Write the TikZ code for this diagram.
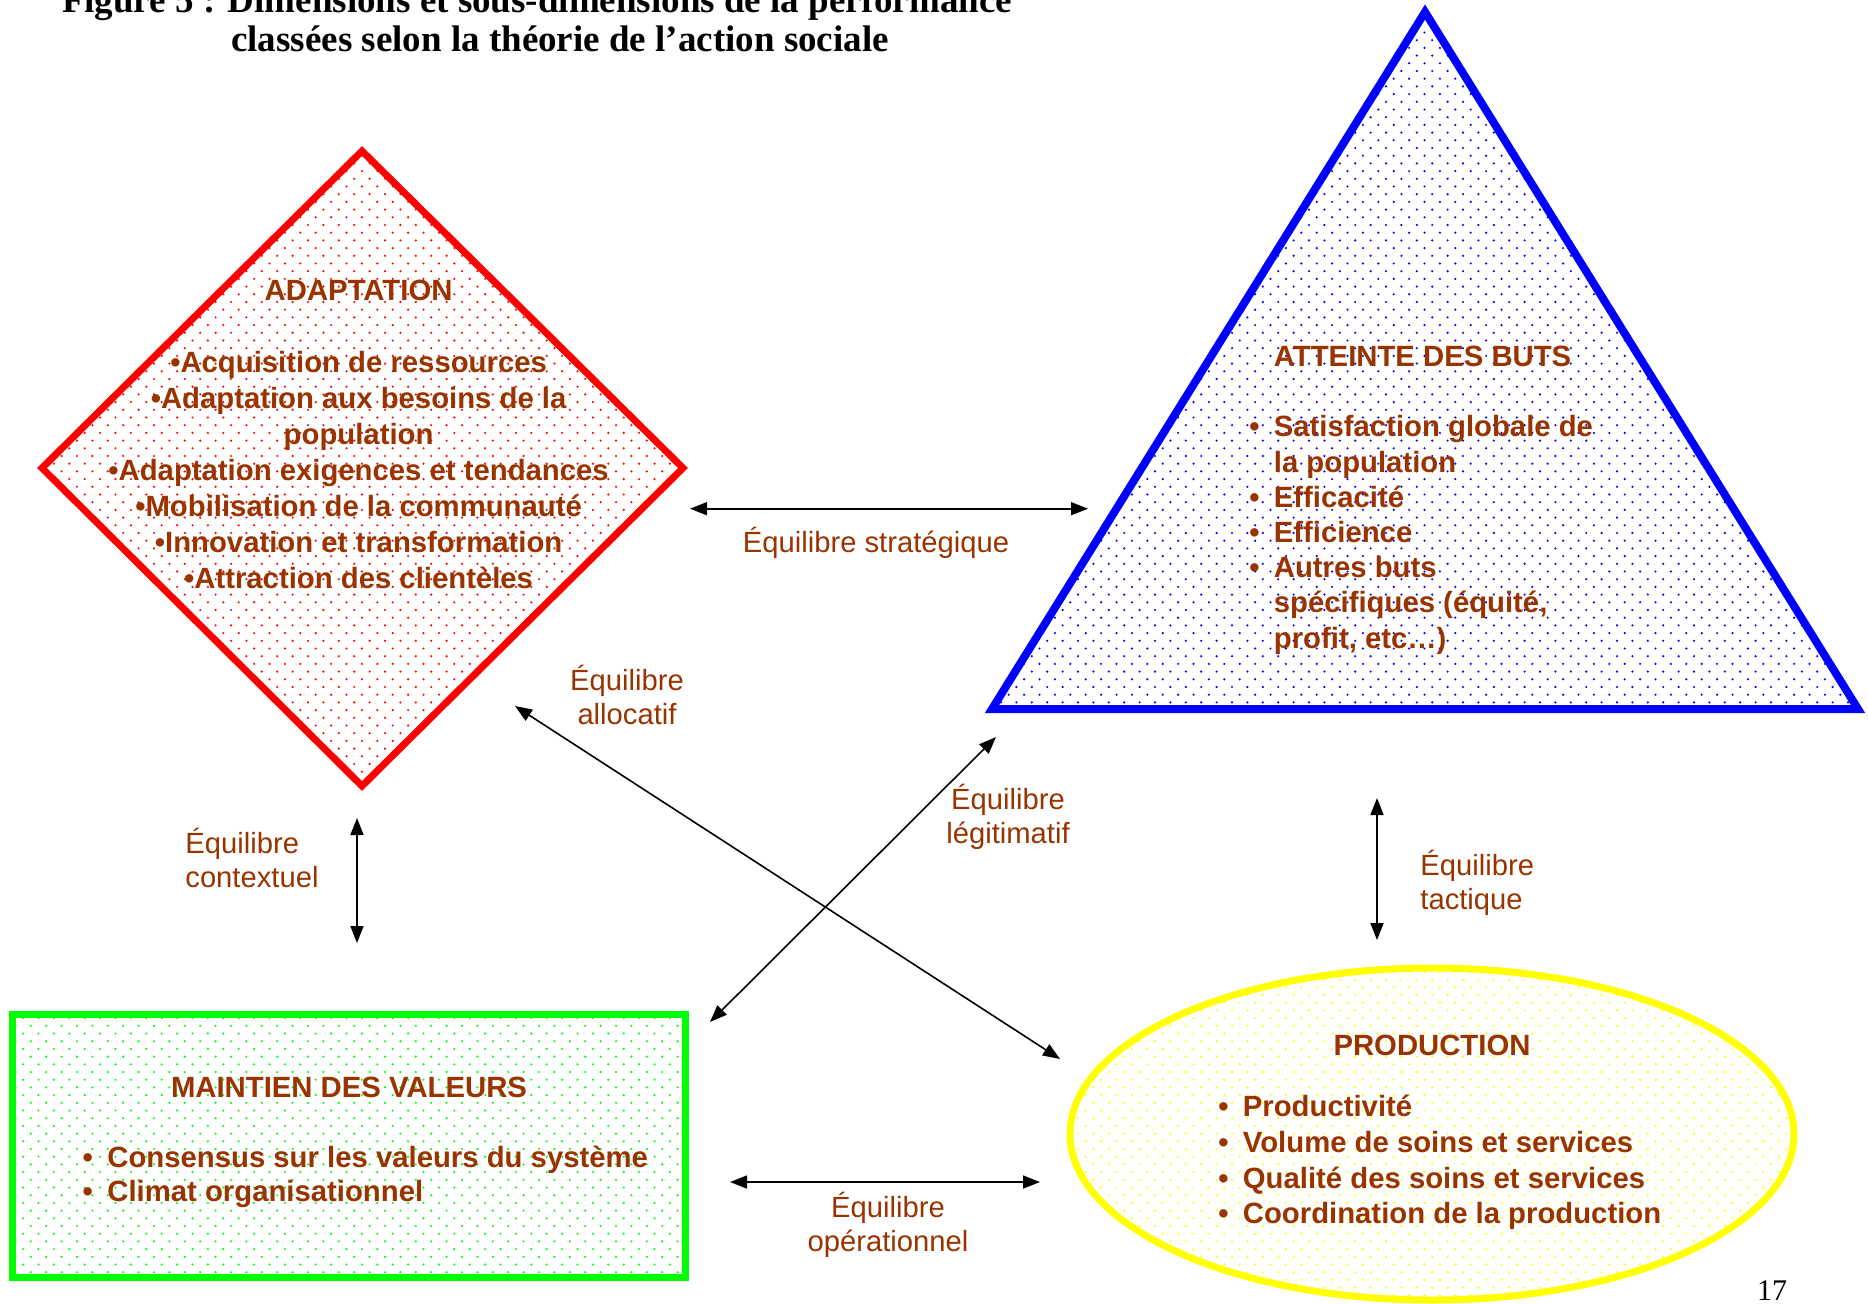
\documentclass[tikz,border=0pt]{standalone}
\usepackage{fontspec}
\setmainfont{Liberation Sans}
\newfontfamily\titlefont{Liberation Serif}
\usetikzlibrary{arrows.meta,patterns}

% staggered grid of small dots used as fill for the four shapes
\pgfdeclarepatternformonly{sparsedots}{\pgfqpoint{-1pt}{-1pt}}{\pgfqpoint{5pt}{5pt}}{\pgfqpoint{7.7pt}{7.7pt}}{%
  \pgfpathcircle{\pgfqpoint{0pt}{0pt}}{0.6pt}%
  \pgfpathcircle{\pgfqpoint{3.85pt}{3.85pt}}{0.6pt}%
  \pgfusepath{fill}}

\definecolor{txtbrown}{RGB}{153,51,0}
\definecolor{pureRed}{RGB}{255,0,0}
\definecolor{pureBlue}{RGB}{0,0,255}
\definecolor{pureGreen}{RGB}{0,255,0}
\definecolor{pureYellow}{RGB}{255,255,0}

\newcommand\itembul{\llap{•\hspace{7.2pt}}}

\begin{document}
\begin{tikzpicture}[x=0.5pt,y=-0.5pt,
  boxtext/.style={text=txtbrown, inner sep=0pt},
  eqlabel/.style={text=txtbrown, inner sep=0pt, font=\fontsize{14.6}{17}\selectfont},
  link/.style={{Triangle[length=8.5pt,width=6.5pt]}-{Triangle[length=8.5pt,width=6.5pt]}, line width=0.8pt},
  dotfill/.style={fill=white, postaction={pattern=sparsedots, pattern color=#1}}
]
\useasboundingbox (0,0) rectangle (1868,1303);

% title
\node[font=\titlefont\bfseries\fontsize{18.5}{20}\selectfont, anchor=base] (title1) at (537,12)
  {Figure 5 : Dimensions et sous-dimensions de la performance};
\node[font=\titlefont\bfseries\fontsize{18.5}{20}\selectfont, anchor=base] (title2) at (560,51.5)
  {classées selon la théorie de l’action sociale};

% the four functions
\draw[pureRed, line width=3.5pt, line join=miter, dotfill=pureRed]
  (362,151) -- (683,468) -- (362,786) -- (42,468) -- cycle;
\draw[pureBlue, line width=4pt, line join=miter, dotfill=pureBlue]
  (1425,12) -- (1858,709) -- (992,709) -- cycle;
\draw[pureGreen, line width=3.5pt, dotfill=pureGreen]
  (12,1014) rectangle (685,1277);
\draw[pureYellow, line width=3.5pt, dotfill=pureYellow]
  (1432,1134) ellipse [x radius=362, y radius=166];

% ADAPTATION
\node[boxtext, align=center, font=\bfseries\fontsize{14.65}{18}\selectfont] (adapt) at (358.6,434.5)
  {ADAPTATION\\[18pt]
   •Acquisition de ressources\\
   •Adaptation aux besoins de la\\
   population\\
   •Adaptation exigences et tendances\\
   •Mobilisation de la communauté\\
   •Innovation et transformation\\
   •Attraction des clientèles};

% ATTEINTE DES BUTS
\node[boxtext, align=left, anchor=west, font=\bfseries\fontsize{14.65}{17.6}\selectfont] (goals) at (1273.5,500)
  {ATTEINTE DES BUTS\\[17.6pt]
   \itembul Satisfaction globale de\\
   la population\\
   \itembul Efficacité\\
   \itembul Efficience\\
   \itembul Autres buts\\
   spécifiques (équité,\\
   profit, etc…)};

% PRODUCTION
\node[boxtext, font=\bfseries\fontsize{14.65}{17.85}\selectfont] (prodtitle) at (1432,1045) {PRODUCTION};
\node[boxtext, align=left, anchor=west, font=\bfseries\fontsize{14.65}{17.85}\selectfont] (prod) at (1242.5,1162.5)
  {\itembul Productivité\\
   \itembul Volume de soins et services\\
   \itembul Qualité des soins et services\\
   \itembul Coordination de la production};

% MAINTIEN DES VALEURS
\node[boxtext, font=\bfseries\fontsize{14.65}{17.25}\selectfont] (valtitle) at (349,1087.7) {MAINTIEN DES VALEURS};
\node[boxtext, align=left, anchor=west, font=\bfseries\fontsize{14.65}{17.25}\selectfont] (val) at (107,1177)
  {\itembul Consensus sur les valeurs du système\\
   \itembul Climat organisationnel};

% arrow end points
\coordinate (strA) at (690,508.7);  \coordinate (strB) at (1088,508.7);
\coordinate (allA) at (515,706);    \coordinate (allB) at (1060,1059);
\coordinate (legA) at (710,1022);   \coordinate (legB) at (996,737);
\coordinate (ctxA) at (357,818);    \coordinate (ctxB) at (357,943);
\coordinate (tacA) at (1377,798);   \coordinate (tacB) at (1377,940);
\coordinate (opeA) at (730,1182);   \coordinate (opeB) at (1040,1182);

\draw[link] (strA) -- (strB);
\draw[link] (allA) -- (allB);
\draw[link] (legA) -- (legB);
\draw[link] (ctxA) -- (ctxB);
\draw[link] (tacA) -- (tacB);
\draw[link] (opeA) -- (opeB);

% balance labels
\node[eqlabel] (strlab) at (876,543) {Équilibre stratégique};
\node[eqlabel, align=center] (alllab) at (627,695) {Équilibre\\allocatif};
\node[eqlabel, align=center] (leglab) at (1008,817) {Équilibre\\légitimatif};
\node[eqlabel, align=left, anchor=west] (ctxlab) at (185,857.5) {Équilibre\\contextuel};
\node[eqlabel, align=left, anchor=west] (taclab) at (1420,882.5) {Équilibre\\tactique};
\node[eqlabel, align=center] (opelab) at (888,1225) {Équilibre\\opérationnel};

% page number
\node[font=\titlefont\fontsize{15}{15}\selectfont, anchor=base, inner sep=0pt] (pagenum) at (1772,1300) {17};
\end{tikzpicture}
\end{document}
